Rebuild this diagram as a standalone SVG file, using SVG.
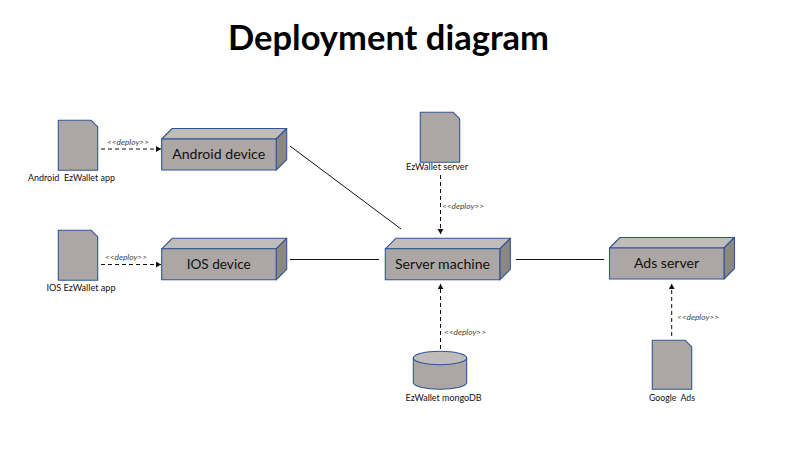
<svg xmlns="http://www.w3.org/2000/svg" width="800" height="456" viewBox="0 0 800 456">
<style>
text{font-family:Lato,"Open Sans",sans-serif;fill:#111;text-anchor:middle}
.title{font-size:34.500px;font-weight:700;fill:#000}
.name{font-size:14px;font-weight:400}
.cap{font-size:9px}
.st{font-size:8px;font-style:italic;fill:#444}
.f{fill:#aca7a5;stroke:#2f5597;stroke-width:1.1;stroke-linejoin:round}
.t{fill:#c0bcba}
.s{fill:#8b8785}
.c{fill:none;stroke:#111;stroke-width:1}
.d{stroke-dasharray:4 3;marker-end:url(#a)}
</style>
<defs>
<marker id="a" markerWidth="8" markerHeight="8" refX="5" refY="3" orient="auto" markerUnits="userSpaceOnUse"><path d="M0 0L5 3L0 6Z" fill="#111"/></marker>
<g id="cube"><path class="f t" d="M0 10.5L10.5 0H125L114.500 10.5H0Z"/><path class="f s" d="M114.500 10.5L125 0V31L114.500 41.500Z"/><rect class="f" x="0" y="10.5" width="114.500" height="31"/></g>
</defs>
<text class="title" x="388.500" y="50" textLength="321" lengthAdjust="spacingAndGlyphs">Deployment diagram</text>
<g id="connectors">
<path class="c" d="M290 146L401 229"/>
<path class="c" d="M290 259.500H379"/>
<path class="c" d="M516 259.500H604"/>
<path class="c d" d="M101 149H161"/>
<path class="c d" d="M101 264.500H161"/>
<path class="c d" d="M440.500 175V234"/>
<path class="c d" d="M440.500 349V284"/>
<path class="c d" d="M671.700 336V284"/>
<text class="st" x="128" y="144.500" textLength="42" lengthAdjust="spacingAndGlyphs">&lt;&lt;deploy&gt;&gt;</text>
<text class="st" x="126" y="259.500" textLength="42" lengthAdjust="spacingAndGlyphs">&lt;&lt;deploy&gt;&gt;</text>
<text class="st" x="463" y="208.500" textLength="42" lengthAdjust="spacingAndGlyphs">&lt;&lt;deploy&gt;&gt;</text>
<text class="st" x="465" y="335" textLength="42" lengthAdjust="spacingAndGlyphs">&lt;&lt;deploy&gt;&gt;</text>
<text class="st" x="698" y="320" textLength="42" lengthAdjust="spacingAndGlyphs">&lt;&lt;deploy&gt;&gt;</text>
</g>
<g id="android-device"><use href="#cube" x="161.700" y="128.500"/><text class="name" x="218.700" y="159" textLength="93" lengthAdjust="spacingAndGlyphs">Android device</text></g>
<g id="ios-device"><use href="#cube" x="161.700" y="238.300"/><text class="name" x="218.700" y="269" textLength="64" lengthAdjust="spacingAndGlyphs">IOS device</text></g>
<g id="server-machine"><use href="#cube" x="385.300" y="238.300"/><text class="name" x="442.500" y="269" textLength="95" lengthAdjust="spacingAndGlyphs">Server machine</text></g>
<g id="ads-server"><use href="#cube" x="609.500" y="237.500"/><text class="name" x="666.500" y="268" textLength="65" lengthAdjust="spacingAndGlyphs">Ads server</text></g>
<g id="android-app"><path class="f" d="M58.300 120.300H91.200L97.700 126.800V170.300H58.300Z"/><text class="cap" x="71.500" y="181" textLength="87" lengthAdjust="spacingAndGlyphs" xml:space="preserve">Android  EzWallet app</text></g>
<g id="ios-app"><path class="f" d="M58.300 230.300H91.200L97.700 236.800V280.300H58.300Z"/><text class="cap" x="81" y="291" textLength="69" lengthAdjust="spacingAndGlyphs">IOS EzWallet app</text></g>
<g id="ezwallet-server"><path class="f" d="M420.300 112.300H453.200L459.700 118.800V162.300H420.300Z"/><text class="cap" x="437" y="170" textLength="62" lengthAdjust="spacingAndGlyphs">EzWallet server</text></g>
<g id="mongodb"><path class="f" d="M413.300 358V382.500C413.300 386.300 425.300 389.300 440 389.300S466.700 386.300 466.700 382.500V358Z"/><ellipse class="f t" cx="440" cy="358" rx="26.700" ry="6.700"/><text class="cap" x="443.500" y="401" textLength="76" lengthAdjust="spacingAndGlyphs">EzWallet mongoDB</text></g>
<g id="google-ads"><path class="f" d="M652.300 340.300H685.200L691.700 346.800V389.300H652.300Z"/><text class="cap" x="672" y="401" textLength="46" lengthAdjust="spacingAndGlyphs" xml:space="preserve">Google  Ads</text></g>
</svg>
